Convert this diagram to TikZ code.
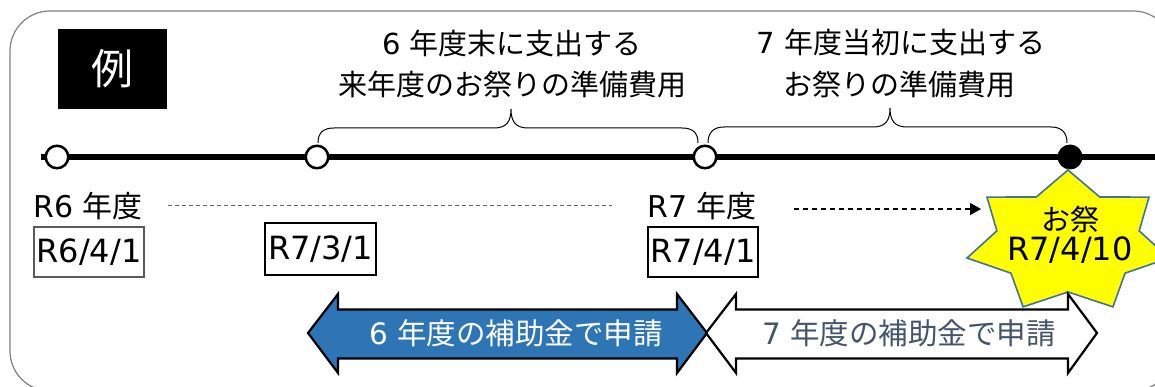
\documentclass[tikz,border=0pt]{standalone}
\usepackage{fontspec}
\setmainfont{DejaVu Sans}
\newfontfamily\jp{Noto Sans CJK JP}
\usetikzlibrary{arrows.meta}
\definecolor{framegray}{HTML}{808080}
\definecolor{arrowblue}{HTML}{2E75B6}
\definecolor{slatetext}{HTML}{44546A}
\definecolor{starblue}{HTML}{41719C}
\definecolor{staryellow}{HTML}{FFFF00}
\begin{document}
\begin{tikzpicture}[x=1pt,y=-1pt,
  lbl/.style={inner sep=0pt, font=\fontsize{29}{34}\selectfont},
  datebox/.style={draw, line width=1.6pt, inner sep=0pt, minimum width=110pt, minimum height=50pt, font=\fontsize{32}{36}\selectfont},
  opencirc/.style={circle, draw, line width=2.5pt, fill=white, minimum size=22.5pt, inner sep=0pt},
  fullcirc/.style={circle, fill=black, minimum size=25pt, inner sep=0pt},
  bracesty/.style={draw, line width=1pt},
  arrowshape/.style={draw, line width=2.2pt, line join=miter},
]
\useasboundingbox (0,0) rectangle (1155,387);
\clip (0,0) rectangle (1155,387);
% frame
\draw[framegray, line width=1.2pt, rounded corners=40pt] (10,11) rectangle (1173,391);

% example tag
\node[fill=black, text=white, minimum width=109pt, minimum height=80pt, inner sep=0pt,
      font=\jp\fontsize{42}{46}\selectfont] (rei) at (112.5,69) {例};

% captions
\node[lbl] (cap1a) at (512,43) {6 \jp 年度末に支出する};
\node[lbl] (cap1b) at (512,84) {\jp 来年度のお祭りの準備費用};
\node[lbl] (cap2a) at (901,42) {7 \jp 年度当初に支出する};
\node[lbl] (cap2b) at (899,84) {\jp お祭りの準備費用};

% braces
\draw[bracesty] (318,143) .. controls (318,133) and (323,128) .. (334,128) -- (494,128)
  .. controls (506,128) and (511,122) .. (511,109)
  .. controls (511,122) and (516,128) .. (528,128) -- (682,128)
  .. controls (693,128) and (698,133) .. (698,143);
\draw[bracesty] (708,143) .. controls (708,133) and (713,127) .. (724,127) -- (873,127)
  .. controls (885,127) and (890,121) .. (890,108)
  .. controls (890,121) and (895,127) .. (907,127) -- (1051,127)
  .. controls (1062,127) and (1067,133) .. (1067,143);

% timeline
\coordinate (tlstart) at (41,157);
\coordinate (tlend) at (1160,157);
\draw[line width=6pt] (tlstart) -- (tlend);
\node[opencirc] (t1) at (57,157) {};
\node[opencirc] (t2) at (317,157) {};
\node[opencirc] (t3) at (705,157) {};
\node[fullcirc] (t4) at (1070,157) {};

% year labels
\node[lbl, font=\fontsize{30}{34}\selectfont] (r6y) at (88,206) {R6 \jp 年度};
\node[lbl, font=\fontsize{30}{34}\selectfont] (r7y) at (702,206) {R7 \jp 年度};

% date boxes
\node[datebox, draw=black!65] (d1) at (89,252) {R6/4/1};
\node[datebox, minimum width=111pt, minimum height=52pt] (d2) at (320.5,249) {R7/3/1};
\node[datebox] (d3) at (703,252) {R7/4/1};

% star
\draw[starblue, fill=staryellow, line width=1.6pt, line join=miter]
  ({1068+103.6*cos(90)},{242-72*sin(90)})
  \foreach \k in {0,...,6} {
    -- ({1068+73*cos(64.2857-51.4286*\k)},{242-50*sin(64.2857-51.4286*\k)})
    -- ({1068+103.6*cos(38.5714-51.4286*\k)},{242-72*sin(38.5714-51.4286*\k)})
  } -- cycle;
\node[lbl, font=\jp\fontsize{29}{34}\selectfont] (fest1) at (1070,220) {お祭};
\node[lbl, font=\fontsize{32}{36}\selectfont] (fest2) at (1070,250) {R7/4/10};

% dashed connectors
\coordinate (arrowend) at (981,209);
\draw[framegray!80!black, line width=1pt, dash pattern=on 4pt off 3pt, shorten <=25pt, shorten >=35pt]
  (r6y.east) -- (r7y.west);
\draw[black, line width=1.2pt, dash pattern=on 5pt off 4pt, shorten <=37pt,
      -{Triangle[length=11pt,width=12pt]}]
  (r7y.east |- arrowend) -- (arrowend);

% application arrows
\draw[arrowshape, fill=arrowblue]
  (308,333) -- (338,294) -- (338,309.5) -- (677,309.5) -- (677,294) -- (707,333)
  -- (677,373) -- (677,358.5) -- (338,358.5) -- (338,373) -- cycle;
\draw[arrowshape, fill=white]
  (706,333) -- (736,294) -- (736,309.5) -- (1068,309.5) -- (1068,294) -- (1097,333)
  -- (1068,373) -- (1068,358.5) -- (736,358.5) -- (736,373) -- cycle;
\node[lbl, text=white, font=\fontsize{29.5}{34}\selectfont] (app6) at (516,333) {6 \jp 年度の補助金で申請};
\node[lbl, text=slatetext, font=\fontsize{29.5}{34}\selectfont] (app7) at (909,333) {7 \jp 年度の補助金で申請};
\end{tikzpicture}
\end{document}
